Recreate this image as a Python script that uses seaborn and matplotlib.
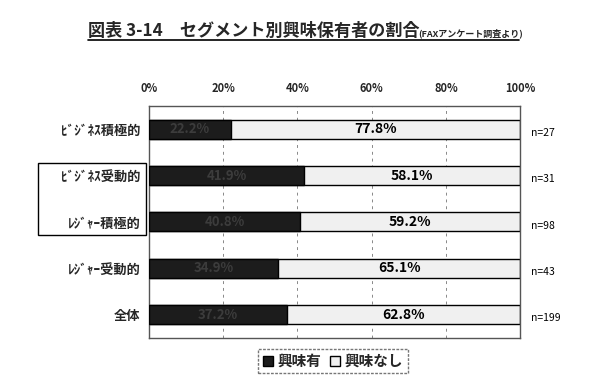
import pandas as pd
import matplotlib.pyplot as plt
import matplotlib.patches as mpatches
import seaborn as sns

# データ（FAXアンケート調査より）
segments = ["ﾋﾞｼﾞﾈｽ積極的", "ﾋﾞｼﾞﾈｽ受動的", "ﾚｼﾞｬｰ積極的", "ﾚｼﾞｬｰ受動的", "全体"]
interest_yes = [22.2, 41.9, 40.8, 34.9, 37.2]
interest_no = [77.8, 58.1, 59.2, 65.1, 62.8]
sample_sizes = ["n=27", "n=31", "n=98", "n=43", "n=199"]
tick_vals = [0, 20, 40, 60, 80, 100]
tick_labels = ["0%", "20%", "40%", "60%", "80%", "100%"]

sns.set_style("white")
plt.rcParams["font.family"] = ["Noto Sans CJK JP", "DejaVu Sans"]

df = pd.DataFrame({"segment": segments, "yes": interest_yes, "no": interest_no})
df["total"] = df["yes"] + df["no"]

fig = plt.figure(figsize=(6, 3.84), dpi=100)
ax = fig.add_axes([0.248, 0.12, 0.619, 0.604])

# 積み上げ棒（全体を薄色で描いてから、興味有を濃色で重ねる）
sns.barplot(data=df, x="total", y="segment", orient="h", color="#f0f0f0",
            edgecolor="black", linewidth=1.0, width=0.41, ax=ax, zorder=2)
sns.barplot(data=df, x="yes", y="segment", orient="h", color="#1c1c1c",
            edgecolor="black", linewidth=1.0, width=0.41, ax=ax, zorder=3)

ax.set_xlim(0, 100)
ax.set_ylim(len(segments) - 0.5, -0.5)
ax.set_xlabel("")
ax.set_ylabel("")

# 目盛りは上側
ax.xaxis.tick_top()
ax.set_xticks(tick_vals)
ax.set_xticklabels(tick_labels, fontsize=8, fontweight="bold")
ax.tick_params(axis="x", length=0, pad=8)
ax.tick_params(axis="y", length=0, pad=6)
for lbl in ax.get_yticklabels():
    lbl.set_fontsize(9.5)
    lbl.set_fontweight("bold")

for v in tick_vals[1:-1]:
    ax.axvline(v, color="#888888", linestyle=(0, (3, 4)), linewidth=0.7, zorder=1)
for s in ax.spines.values():
    s.set_color("#555555")
    s.set_linewidth(1.0)

# ラベル
for i, (y_, n_) in enumerate(zip(interest_yes, interest_no)):
    ax.text(y_ / 2, i, f"{y_:.1f}%", ha="center", va="center",
            fontsize=9.5, fontweight="bold", color="#3c3c3c", zorder=4)
    ax.text(y_ + n_ / 2, i, f"{n_:.1f}%", ha="center", va="center",
            fontsize=10, fontweight="bold", color="black", zorder=4)
    ax.text(1.03, i + 0.08, sample_sizes[i], transform=ax.get_yaxis_transform(),
            ha="left", va="center", fontsize=7.5, color="black")

# 左の枠（ﾋﾞｼﾞﾈｽ受動的・ﾚｼﾞｬｰ積極的）
fig.patches.append(mpatches.Rectangle((38 / 600, 1 - 235 / 384), 108 / 600, 72 / 384,
                                      transform=fig.transFigure, fill=False,
                                      edgecolor="black", linewidth=1.0))

# タイトル（下線付き）
fig.text(88 / 600, 1 - 31 / 384, "図表 3-14　セグメント別興味保有者の割合",
         fontsize=12.3, fontweight="bold", ha="left", va="center")
fig.text(418 / 600, 1 - 33 / 384, "(FAXアンケート調査より)",
         fontsize=6.5, fontweight="bold", ha="left", va="center")
fig.add_artist(plt.Line2D([88 / 600, 519 / 600], [1 - 40 / 384, 1 - 40 / 384],
                          transform=fig.transFigure, color="black", linewidth=1.2))

# 凡例
handles = [mpatches.Patch(facecolor="#1c1c1c", edgecolor="black", label="興味有"),
           mpatches.Patch(facecolor="#f0f0f0", edgecolor="black", label="興味なし")]
leg = fig.legend(handles=handles, loc="center", bbox_to_anchor=(333 / 600, 1 - 361 / 384),
                 ncol=2, fontsize=10.5, frameon=True, fancybox=False,
                 handlelength=0.7, handleheight=0.7, handletextpad=0.3,
                 columnspacing=0.6, borderpad=0.3)
leg.get_frame().set_edgecolor("#555555")
leg.get_frame().set_linestyle((0, (2, 1)))
for t in leg.get_texts():
    t.set_fontweight("bold")

fig.savefig("out.png", dpi=100)
